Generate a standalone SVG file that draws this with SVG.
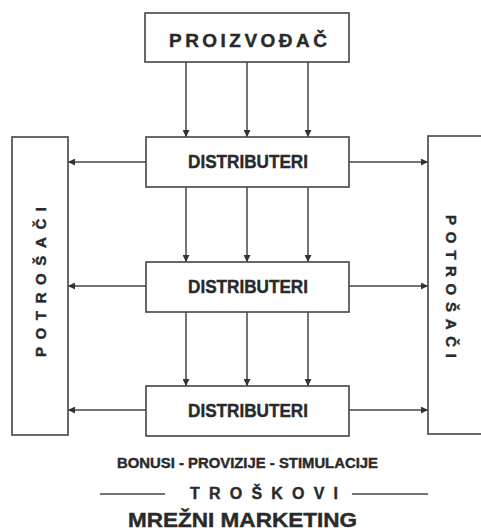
<svg xmlns="http://www.w3.org/2000/svg" width="481" height="531" viewBox="0 0 481 531">
<defs>
<marker id="ah" viewBox="0 0 10 10" refX="10" refY="5" markerWidth="7" markerHeight="7" markerUnits="userSpaceOnUse" orient="auto">
<path d="M0,0 L10,5 L0,10 z" fill="#333"/>
</marker>
<style>
.box{fill:#fff;stroke:#444;stroke-width:1.6}
.ln{stroke:#444;stroke-width:1.5;fill:none;marker-end:url(#ah)}
.pl{stroke:#444;stroke-width:1.3;fill:none}
text{font-family:"Liberation Sans",Arial,sans-serif;font-weight:bold;fill:#2a2a2a;stroke:#2a2a2a;stroke-width:0.4}
.d{font-size:18px;text-anchor:middle}
</style>
</defs>
<rect width="481" height="531" fill="#fff"/>
<g id="connectors">
<line class="ln" x1="186" y1="62" x2="186" y2="137"/>
<line class="ln" x1="247" y1="62" x2="247" y2="137"/>
<line class="ln" x1="308" y1="62" x2="308" y2="137"/>
<line class="ln" x1="186" y1="187" x2="186" y2="262"/>
<line class="ln" x1="247" y1="187" x2="247" y2="262"/>
<line class="ln" x1="308" y1="187" x2="308" y2="262"/>
<line class="ln" x1="186" y1="312" x2="186" y2="386"/>
<line class="ln" x1="247" y1="312" x2="247" y2="386"/>
<line class="ln" x1="308" y1="312" x2="308" y2="386"/>
<line class="ln" x1="146" y1="162" x2="68" y2="162"/>
<line class="ln" x1="146" y1="286" x2="68" y2="286"/>
<line class="ln" x1="146" y1="410" x2="68" y2="410"/>
<line class="ln" x1="349" y1="162" x2="428" y2="162"/>
<line class="ln" x1="349" y1="286" x2="428" y2="286"/>
<line class="ln" x1="349" y1="410" x2="428" y2="410"/>
</g>
<g id="proizvodac">
<rect class="box" x="145" y="13" width="204" height="49"/>
<text x="169" y="47" font-size="19" textLength="158">PROIZVOĐAČ</text>
</g>
<g id="distributeri1">
<rect class="box" x="146" y="137" width="203" height="50"/>
<text class="d" x="248" y="168" textLength="120" lengthAdjust="spacingAndGlyphs">DISTRIBUTERI</text>
</g>
<g id="distributeri2">
<rect class="box" x="146" y="262" width="203" height="50"/>
<text class="d" x="248" y="293" textLength="120" lengthAdjust="spacingAndGlyphs">DISTRIBUTERI</text>
</g>
<g id="distributeri3">
<rect class="box" x="146" y="386" width="203" height="50"/>
<text class="d" x="248" y="417" textLength="120" lengthAdjust="spacingAndGlyphs">DISTRIBUTERI</text>
</g>
<g id="potrosaci-left">
<rect class="box" x="12" y="137" width="56" height="298"/>
<text transform="translate(46,357) rotate(-90)" font-size="15" textLength="150">POTROŠAČI</text>
</g>
<g id="potrosaci-right">
<rect class="box" x="428" y="136" width="60" height="298"/>
<text transform="translate(446,215) rotate(90)" font-size="15" textLength="143">POTROŠAČI</text>
</g>
<g id="footer">
<text x="117" y="468" font-size="14" textLength="261" lengthAdjust="spacingAndGlyphs">BONUSI - PROVIZIJE - STIMULACIJE</text>
<line class="pl" x1="100" y1="494" x2="165" y2="494"/>
<line class="pl" x1="352" y1="494" x2="428" y2="494"/>
<text x="190" y="499" font-size="16" textLength="148">TROŠKOVI</text>
<text x="128" y="527" font-size="20" textLength="229" lengthAdjust="spacingAndGlyphs">MREŽNI MARKETING</text>
</g>
</svg>
